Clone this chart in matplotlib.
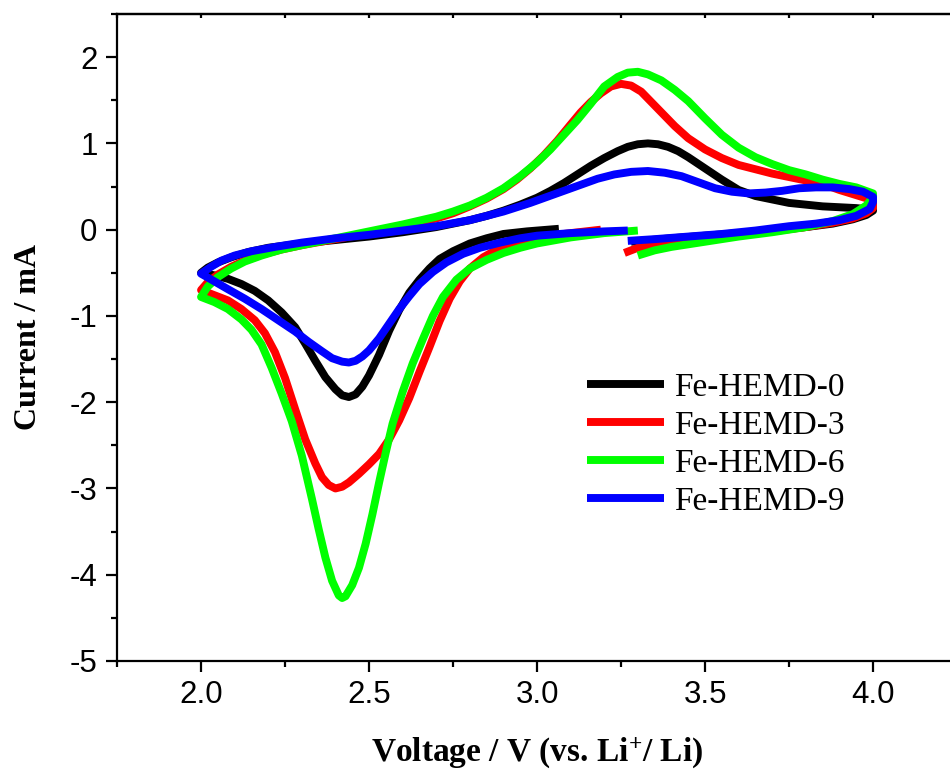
"""Cyclic voltammograms of the Fe-HEMD samples (2.0-4.0 V vs. Li+/Li)."""

import matplotlib

matplotlib.use("Agg")
import matplotlib.pyplot as plt
from matplotlib.ticker import AutoMinorLocator, FormatStrFormatter, MultipleLocator

plt.rcParams["mathtext.default"] = "regular"
plt.rcParams["axes.unicode_minus"] = False

SAMPLES = ["Fe-HEMD-0", "Fe-HEMD-3", "Fe-HEMD-6", "Fe-HEMD-9"]
COLORS = ["#000000", "#ff0000", "#00ff00", "#0000ff"]

# Each trace runs: start -> 4.0 V (lower right), 4.0 -> 2.0 V (upper), 2.0 V -> end (lower left)
V_HEMD0 = [3.28, 3.4, 3.5, 3.6, 3.7, 3.8, 3.88, 3.94, 3.98, 4.0,
           4.0, 3.95, 3.9, 3.85, 3.8, 3.75, 3.7, 3.65, 3.6, 3.55, 3.5, 3.45, 3.42, 3.39,
           3.36, 3.33, 3.3, 3.27, 3.24, 3.2, 3.16, 3.12, 3.08, 3.04, 3.0, 2.95, 2.9, 2.85,
           2.8, 2.7, 2.6, 2.5, 2.4, 2.3, 2.2, 2.14, 2.09, 2.05, 2.02, 2.0,
           2.04, 2.08, 2.12, 2.16, 2.2, 2.24, 2.28, 2.31, 2.34, 2.37, 2.4, 2.42, 2.44,
           2.46, 2.48, 2.5, 2.53, 2.56, 2.59, 2.62, 2.65, 2.68, 2.71, 2.75, 2.8, 2.85,
           2.9, 2.97, 3.065]
I_HEMD0 = [-0.14, -0.10, -0.07, -0.04, -0.01, 0.03, 0.07, 0.12, 0.17, 0.22,
           0.23, 0.25, 0.26, 0.27, 0.29, 0.31, 0.35, 0.39, 0.46, 0.58, 0.71, 0.84, 0.91, 0.96,
           0.99, 1.00, 0.99, 0.96, 0.91, 0.83, 0.74, 0.64, 0.54, 0.45, 0.37, 0.29, 0.22, 0.16,
           0.11, 0.03, -0.03, -0.08, -0.12, -0.16, -0.21, -0.26, -0.32, -0.38, -0.44, -0.50,
           -0.53, -0.57, -0.63, -0.71, -0.82, -0.96, -1.13, -1.32, -1.52, -1.71, -1.85, -1.92, -1.94,
           -1.91, -1.82, -1.69, -1.45, -1.17, -0.93, -0.73, -0.58, -0.45, -0.34, -0.25, -0.16, -0.10,
           -0.05, -0.02, 0.01]

V_HEMD3 = [3.26, 3.3, 3.4, 3.5, 3.6, 3.7, 3.8, 3.88, 3.94, 3.98, 4.0,
           4.0, 3.95, 3.9, 3.85, 3.8, 3.75, 3.7, 3.65, 3.6, 3.55, 3.5, 3.45, 3.41, 3.37,
           3.34, 3.31, 3.28, 3.25, 3.22, 3.19, 3.16, 3.13, 3.1, 3.06, 3.02, 2.98, 2.94, 2.9,
           2.85, 2.8, 2.75, 2.7, 2.6, 2.5, 2.4, 2.3, 2.24, 2.18, 2.13, 2.09, 2.05, 2.02, 2.0,
           2.04, 2.08, 2.12, 2.16, 2.19, 2.22, 2.25, 2.28, 2.31, 2.34, 2.36, 2.38, 2.4,
           2.42, 2.44, 2.47, 2.5, 2.53, 2.56, 2.59, 2.62, 2.65, 2.68, 2.71, 2.74, 2.77,
           2.8, 2.84, 2.89, 2.95, 3.0, 3.1, 3.19]
I_HEMD3 = [-0.27, -0.21, -0.14, -0.10, -0.06, -0.02, 0.03, 0.08, 0.13, 0.19, 0.25,
           0.34, 0.40, 0.46, 0.53, 0.57, 0.61, 0.65, 0.70, 0.75, 0.83, 0.93, 1.06, 1.20, 1.36,
           1.48, 1.60, 1.67, 1.69, 1.66, 1.58, 1.48, 1.36, 1.22, 1.03, 0.86, 0.71, 0.58, 0.47,
           0.36, 0.27, 0.19, 0.13, 0.04, -0.04, -0.11, -0.18, -0.23, -0.29, -0.36, -0.43, -0.52, -0.61, -0.70,
           -0.76, -0.82, -0.92, -1.05, -1.20, -1.42, -1.72, -2.08, -2.43, -2.71, -2.87, -2.96, -3.00,
           -2.98, -2.93, -2.83, -2.72, -2.60, -2.43, -2.21, -1.95, -1.65, -1.36, -1.06, -0.80, -0.60,
           -0.45, -0.32, -0.21, -0.13, -0.09, -0.04, 0.00]

V_HEMD6 = [3.3, 3.35, 3.4, 3.5, 3.6, 3.7, 3.8, 3.88, 3.94, 3.98, 4.0,
           4.0, 3.95, 3.9, 3.85, 3.8, 3.75, 3.7, 3.65, 3.6, 3.55, 3.5, 3.45, 3.41, 3.37,
           3.33, 3.3, 3.27, 3.24, 3.2, 3.16, 3.12, 3.08, 3.04, 3.0, 2.95, 2.9, 2.85, 2.8,
           2.75, 2.7, 2.6, 2.5, 2.4, 2.3, 2.24, 2.18, 2.13, 2.09, 2.05, 2.02, 2.0,
           2.04, 2.08, 2.12, 2.15, 2.18, 2.21, 2.24, 2.27, 2.3, 2.33, 2.35, 2.37, 2.39,
           2.41, 2.42, 2.43, 2.45, 2.47, 2.49, 2.51, 2.53, 2.55, 2.57, 2.6, 2.63, 2.66,
           2.69, 2.72, 2.76, 2.8, 2.85, 2.9, 2.95, 3.0, 3.1, 3.2, 3.3]
I_HEMD6 = [-0.30, -0.24, -0.20, -0.14, -0.08, -0.03, 0.03, 0.10, 0.18, 0.28, 0.38,
           0.42, 0.49, 0.53, 0.58, 0.64, 0.69, 0.76, 0.84, 0.95, 1.10, 1.29, 1.49, 1.62, 1.73,
           1.80, 1.83, 1.82, 1.77, 1.66, 1.46, 1.27, 1.10, 0.93, 0.78, 0.62, 0.48, 0.37, 0.28,
           0.21, 0.15, 0.06, -0.02, -0.10, -0.18, -0.23, -0.30, -0.37, -0.45, -0.55, -0.66, -0.78,
           -0.84, -0.92, -1.04, -1.16, -1.33, -1.60, -1.90, -2.22, -2.62, -3.12, -3.47, -3.80, -4.07,
           -4.24, -4.27, -4.25, -4.12, -3.92, -3.64, -3.30, -2.93, -2.58, -2.25, -1.88, -1.55, -1.27,
           -1.00, -0.78, -0.58, -0.45, -0.35, -0.27, -0.21, -0.16, -0.09, -0.04, -0.01]

V_HEMD9 = [3.27, 3.35, 3.45, 3.55, 3.65, 3.75, 3.83, 3.9, 3.95, 3.99, 4.0,
           4.0, 3.97, 3.93, 3.88, 3.83, 3.78, 3.73, 3.68, 3.63, 3.58, 3.53, 3.48, 3.43, 3.38,
           3.33, 3.28, 3.23, 3.18, 3.13, 3.08, 3.03, 2.98, 2.9, 2.8, 2.7, 2.6, 2.5, 2.4,
           2.3, 2.22, 2.15, 2.1, 2.06, 2.03, 2.0,
           2.04, 2.08, 2.13, 2.18, 2.23, 2.28, 2.32, 2.36, 2.39, 2.42, 2.44, 2.46, 2.48,
           2.5, 2.53, 2.56, 2.59, 2.62, 2.65, 2.69, 2.73, 2.78, 2.83, 2.89, 2.95, 3.0,
           3.1, 3.2, 3.27]
I_HEMD9 = [-0.13, -0.11, -0.08, -0.05, -0.01, 0.04, 0.07, 0.11, 0.16, 0.24, 0.32,
           0.38, 0.44, 0.47, 0.49, 0.49, 0.48, 0.45, 0.43, 0.42, 0.44, 0.48, 0.55, 0.62, 0.66,
           0.68, 0.67, 0.64, 0.59, 0.52, 0.45, 0.38, 0.31, 0.21, 0.11, 0.04, -0.01, -0.06, -0.10,
           -0.15, -0.20, -0.25, -0.30, -0.36, -0.43, -0.51,
           -0.60, -0.69, -0.80, -0.92, -1.05, -1.18, -1.30, -1.41, -1.49, -1.53, -1.54, -1.52, -1.47,
           -1.40, -1.26, -1.09, -0.92, -0.77, -0.63, -0.49, -0.38, -0.28, -0.21, -0.15, -0.10, -0.07,
           -0.04, -0.02, -0.01]

VOLTAGES = [V_HEMD0, V_HEMD3, V_HEMD6, V_HEMD9]
CURRENTS = [I_HEMD0, I_HEMD3, I_HEMD6, I_HEMD9]

fig = plt.figure(figsize=(9.5, 7.73), dpi=100)
# frame is wider than the canvas, so the right edge falls off the figure
ax = fig.add_axes([0.1232, 0.1449, 0.8842, 0.8370])

for v, i, label, color in zip(VOLTAGES, CURRENTS, SAMPLES, COLORS):
    ax.plot(v, i, color=color, lw=5.7, label=label,
            solid_joinstyle="round", solid_capstyle="butt")

ax.set_xlim(1.75, 4.25)
ax.set_ylim(-5, 2.5)
ax.xaxis.set_major_locator(MultipleLocator(0.5))
ax.xaxis.set_minor_locator(AutoMinorLocator(2))
ax.yaxis.set_major_locator(MultipleLocator(1))
ax.yaxis.set_minor_locator(AutoMinorLocator(2))
ax.xaxis.set_major_formatter(FormatStrFormatter("%.1f"))

for side in ax.spines.values():
    side.set_linewidth(1.6)
ax.tick_params(which="major", direction="out", length=8, width=1.6,
               labelsize=22.5, pad=6, right=False, top=False)
ax.tick_params(which="minor", direction="out", length=4, width=1.6,
               right=False, top=False)
for lbl in ax.get_xticklabels() + ax.get_yticklabels():
    lbl.set_family("Liberation Sans")

# short inward ticks along the top edge
top = ax.secondary_xaxis("top")
top.set_xticks([1.75 + 0.25 * k for k in range(11)])
top.tick_params(direction="in", length=3, width=1.6, labeltop=False)
top.spines["top"].set_linewidth(1.6)

ax.set_xlabel("Voltage / V (vs. Li$^{+}$/ Li)", family="Liberation Serif",
              fontweight="bold", fontsize=24)
ax.set_ylabel("Current / mA", family="Liberation Serif", fontweight="bold",
              fontsize=23)
ax.xaxis.set_label_coords(0.5, -0.115)
ax.yaxis.set_label_coords(-0.088, 0.5)

ax.legend(loc="center left", bbox_to_anchor=(587 / 950, 1 - 444.5 / 773),
          bbox_transform=fig.transFigure, frameon=False, borderpad=0,
          borderaxespad=0, handlelength=2.3, handletextpad=0.3,
          labelspacing=0.22, prop={"family": "Liberation Serif", "size": 24})

fig.savefig("out.png", dpi=100)
